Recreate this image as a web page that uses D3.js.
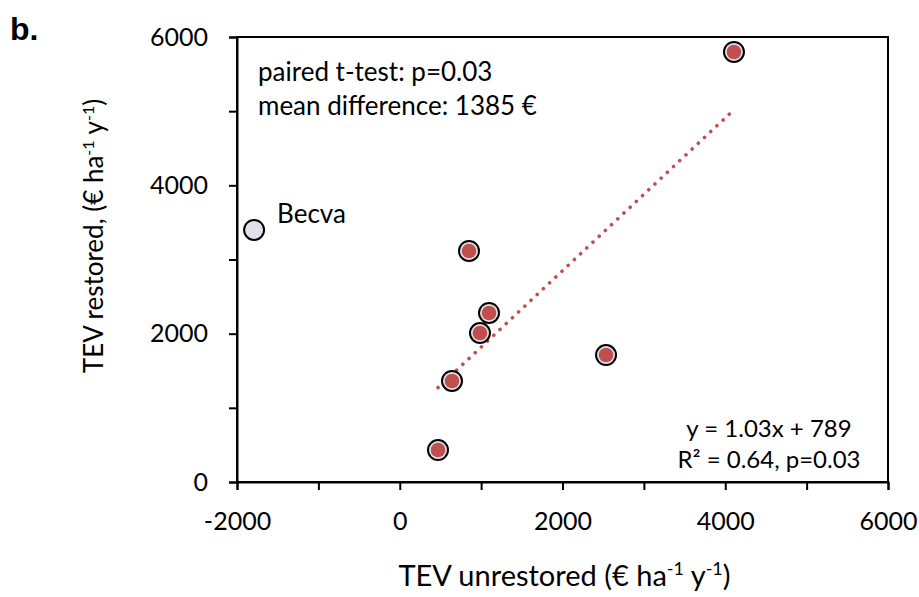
<!DOCTYPE html>
<html>
<head>
<meta charset="utf-8">
<script src="https://cdn.jsdelivr.net/npm/d3@7"></script>
<style>
body { margin: 0; background: #fff; }
text { font-family: Lato, "Open Sans", sans-serif; fill: #000; }
</style>
</head>
<body>
<script>
// unrestored vs restored TEV, one point per site
const sites = ["Becva", "s1", "s2", "s3", "s4", "s5", "s6", "s7"];
const unrestored = [-1790, 4107, 851, 1097, 986, 2535, 642, 470];
const restored = [3398, 5798, 3115, 2279, 2009, 1712, 1362, 431];
const xTicks = [-2000, 0, 2000, 4000, 6000];
const yTicks = [0, 2000, 4000, 6000];
const slope = 1.03, intercept = 789;

const margin = {top: 37, right: 31, bottom: 115, left: 237},
width = 919 - margin.left - margin.right,
height = 597 - margin.top - margin.bottom;

const svg = d3.select("body")
.append("svg")
.attr("width", 919)
.attr("height", 597);

const g = svg.append("g")
.attr("transform", `translate(${margin.left},${margin.top})`);

const x = d3.scaleLinear().domain([-2000, 6000]).range([0, width]);
const y = d3.scaleLinear().domain([0, 6000]).range([height, 0]);

// frame
g.append("rect")
  .attr("width", width).attr("height", height)
  .attr("fill", "none").attr("stroke", "#000").attr("stroke-width", 2);

const xAxis = g.append("g")
  .attr("transform", `translate(0,${height})`)
  .call(d3.axisBottom(x).tickValues(d3.range(-2000, 6001, 1000)).tickSize(8)
    .tickFormat(d => xTicks.includes(d) ? d : ""));
const yAxis = g.append("g")
  .call(d3.axisLeft(y).tickValues(d3.range(0, 6001, 1000)).tickSize(8)
    .tickFormat(d => yTicks.includes(d) ? d : ""));

[xAxis, yAxis].forEach(a => {
  a.select(".domain").attr("stroke-width", 2);
  a.selectAll(".tick line").attr("stroke-width", 2);
  a.selectAll(".tick text").style("font-size", "25px").style("font-family", "Lato, sans-serif");
});
xAxis.selectAll(".tick text").attr("y", 0).attr("dy", 0)
  .attr("transform", "translate(0,48)");
yAxis.selectAll(".tick text").attr("x", -29);

// trend line over red points
const red = d3.range(1, unrestored.length);
const x0 = d3.min(red, i => unrestored[i]), x1 = d3.max(red, i => unrestored[i]);
g.append("line")
  .attr("x1", x(x0)).attr("y1", y(slope * x0 + intercept))
  .attr("x2", x(x1)).attr("y2", y(slope * x1 + intercept))
  .attr("stroke", "#c0504d").attr("stroke-width", 3.6)
  .attr("stroke-linecap", "round").attr("stroke-dasharray", "0.1 8.4");

// points
const pts = g.selectAll("g.pt")
  .data(sites.map((s, i) => ({s, u: unrestored[i], r: restored[i]})))
  .enter().append("g")
  .attr("transform", d => `translate(${x(d.u)},${y(d.r)})`);
pts.append("circle")
  .attr("r", 10)
  .attr("fill", "#e4dfec")
  .attr("stroke", "#000").attr("stroke-width", 2);
pts.filter(d => d.s !== "Becva").append("circle")
  .attr("r", 7.3).attr("fill", "#c0504d");

// labels
const note = (txt, px, py, anchor, fs) => g.append("text")
  .attr("x", px).attr("y", py).attr("text-anchor", anchor || "start")
  .style("font-size", (fs || 26) + "px").text(txt);
note("paired t-test: p=0.03", 21, 44);
note("mean difference: 1385 €", 21, 78);
note("Becva", x(unrestored[0]) + 23, 186);
note("y = 1.03x + 789", 532, 400, "middle", 24);
note("R² = 0.64, p=0.03", 532, 431, "middle", 24);

svg.append("text")
  .attr("x", 10).attr("y", 40)
  .style("font-size", "32px").style("font-weight", "bold")
  .style("font-family", "Liberation Sans, Arial, sans-serif")
  .text("b.");

// axis titles with superscripts
const title = (sel, parts, sup) => parts.forEach(p => {
  const t = sel.append("tspan").text(p[0]);
  if (p[1]) t.attr("baseline-shift", "super").style("font-size", sup + "px");
});
const xt = svg.append("text")
  .attr("x", margin.left + width / 2 + 2).attr("y", 586)
  .attr("text-anchor", "middle").style("font-size", "29px");
title(xt, [["TEV unrestored (€ ha"], ["-1", 1], [" y"], ["-1", 1], [")"]], 18);
const yt = svg.append("text")
  .attr("transform", `translate(103,${236}) rotate(-90)`)
  .attr("text-anchor", "middle").style("font-size", "26px");
title(yt, [["TEV restored, (€ ha"], ["-1", 1], [" y"], ["-1", 1], [")"]], 16);
</script>
</body>
</html>
